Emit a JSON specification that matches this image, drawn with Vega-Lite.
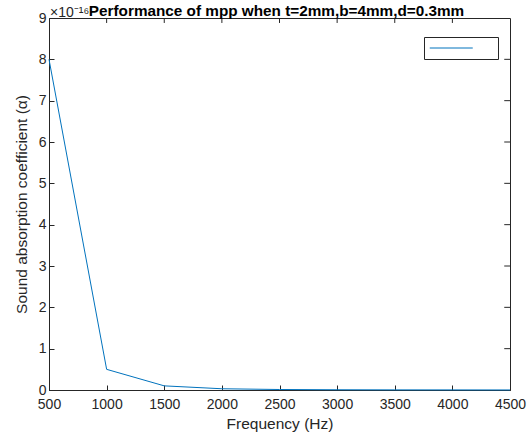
{
  "$schema": "https://vega.github.io/schema/vega-lite/v6.json",
  "width": 461,
  "height": 372,
  "autosize": {"type": "none"},
  "padding": {"left": 49, "top": 18, "right": 19, "bottom": 50},
  "background": "white",
  "title": {
    "text": "Performance of mpp when t=2mm,b=4mm,d=0.3mm",
    "font": "Liberation Sans",
    "fontSize": 15.3,
    "fontWeight": "bold",
    "color": "#000000",
    "anchor": "middle",
    "frame": "group",
    "offset": 1,
    "dy": 14,
    "dx": -3
  },
  "config": {
    "view": {"stroke": "#262626", "strokeWidth": 1},
    "axis": {
      "labelFont": "Liberation Sans",
      "titleFont": "Liberation Sans",
      "labelColor": "#262626",
      "titleColor": "#262626",
      "labelFontSize": 14,
      "titleFontSize": 15.5,
      "titleFontWeight": "normal",
      "domainColor": "#262626",
      "tickColor": "#262626",
      "tickSize": -5,
      "grid": false,
      "format": "d"
    }
  },
  "data": {
    "values": [
      {"f": 500, "a": 8.0, "s": ""},
      {"f": 1000, "a": 0.5, "s": ""},
      {"f": 1500, "a": 0.1, "s": ""},
      {"f": 2000, "a": 0.03, "s": ""},
      {"f": 2500, "a": 0.012, "s": ""},
      {"f": 3000, "a": 0.006, "s": ""},
      {"f": 3500, "a": 0.003, "s": ""},
      {"f": 4000, "a": 0.002, "s": ""},
      {"f": 4500, "a": 0.001, "s": ""}
    ]
  },
  "layer": [
    {
      "mark": {"type": "line", "strokeWidth": 1},
      "encoding": {
        "x": {
          "field": "f", "type": "quantitative",
          "scale": {"domain": [500, 4500], "nice": false, "zero": false},
          "axis": {"values": [500,1000,1500,2000,2500,3000,3500,4000,4500], "title": "Frequency (Hz)", "labelPadding": 12, "titlePadding": 5, "labelFlush": false}
        },
        "y": {
          "field": "a", "type": "quantitative",
          "scale": {"domain": [0, 9], "nice": false},
          "axis": {"values": [0,1,2,3,4,5,6,7,8,9], "title": "Sound absorption coefficient (α)", "labelPadding": 8, "titlePadding": 9}
        },
        "color": {
          "field": "s", "type": "nominal",
          "scale": {"range": ["#0072BD"]},
          "legend": {
            "title": null,
            "orient": "none",
            "legendX": 375,
            "legendY": 19,
            "symbolType": "M-1,0H7.2",
            "symbolSize": 110,
            "symbolStrokeWidth": 1,
            "strokeColor": "#262626",
            "fillColor": "white",
            "padding": 5,
            "labelOffset": 52,
            "labelFontSize": 12
          }
        }
      }
    },
    {
      "mark": {"type": "text", "align": "left", "baseline": "alphabetic", "dx": 1, "dy": -1, "font": "Liberation Sans", "fontSize": 14, "color": "#262626"},
      "data": {"values": [{"t": "×10⁻¹⁶"}]},
      "encoding": {
        "x": {"datum": 500},
        "y": {"datum": 9},
        "text": {"field": "t"}
      }
    },
    {
      "mark": {"type": "rule", "color": "#262626", "strokeWidth": 1},
      "data": {"values": [{"v": 1000},{"v": 1500},{"v": 2000},{"v": 2500},{"v": 3000},{"v": 3500},{"v": 4000}]},
      "encoding": {
        "x": {"field": "v", "type": "quantitative"},
        "y": {"datum": 9},
        "y2": {"datum": 8.88}
      }
    },
    {
      "mark": {"type": "rule", "color": "#262626", "strokeWidth": 1},
      "data": {"values": [{"v": 1},{"v": 2},{"v": 3},{"v": 4},{"v": 5},{"v": 6},{"v": 7},{"v": 8}]},
      "encoding": {
        "y": {"field": "v", "type": "quantitative"},
        "x": {"datum": 4500},
        "x2": {"datum": 4450}
      }
    }
  ]
}
